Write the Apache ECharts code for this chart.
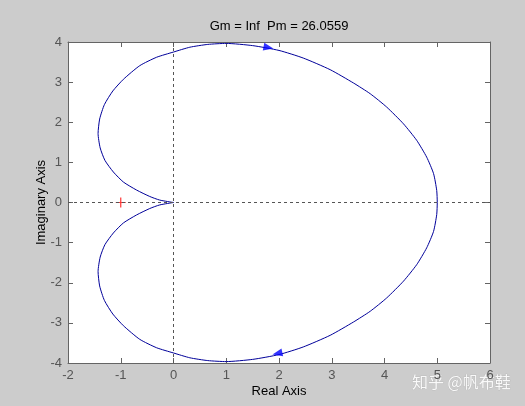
<!DOCTYPE html>
<html>
<head>
<meta charset="utf-8">
<script src="https://cdn.jsdelivr.net/npm/echarts@6/dist/echarts.min.js"></script>
<style>
html,body{margin:0;padding:0;background:#cccccc;}
#main{width:525px;height:406px;}
</style>
</head>
<body>
<div id="main"></div>
<script>
// Nyquist curve (loop order: origin -> upper half -> (5,0) -> lower half -> origin)
var realPart = [0, -0.26, -0.45, -0.70, -0.95, -1.14, -1.30, -1.39, -1.43, -1.40, -1.31, -1.15, -0.95, -0.64, -0.32, 0, 0.31, 0.65, 1.00, 1.50, 2.00, 2.46, 2.97, 3.41, 3.73, 4.04, 4.36, 4.61, 4.80, 4.93, 4.99, 5.00,
  4.99, 4.93, 4.80, 4.61, 4.36, 4.04, 3.73, 3.41, 2.97, 2.46, 2.00, 1.50, 1.00, 0.65, 0.31, 0, -0.32, -0.64, -0.95, -1.15, -1.31, -1.40, -1.43, -1.39, -1.30, -1.14, -0.95, -0.70, -0.45, -0.26, 0];
var imagPart = [0, 0.06, 0.15, 0.31, 0.51, 0.76, 1.05, 1.36, 1.72, 2.08, 2.44, 2.78, 3.07, 3.41, 3.62, 3.75, 3.87, 3.94, 3.965, 3.91, 3.79, 3.60, 3.31, 2.98, 2.71, 2.38, 1.96, 1.55, 1.13, 0.72, 0.30, 0,
  -0.30, -0.72, -1.13, -1.55, -1.96, -2.38, -2.71, -2.98, -3.31, -3.60, -3.79, -3.91, -3.965, -3.94, -3.87, -3.75, -3.62, -3.41, -3.07, -2.78, -2.44, -2.08, -1.72, -1.36, -1.05, -0.76, -0.51, -0.31, -0.15, -0.06, 0];
// direction arrows: position and heading (deg)
var arrowPts = [[1.80, 3.86], [1.97, -3.76]];
var arrowRot = [-101, 102];
// critical point
var critical = [[-1, 0]];
var xTicks = {min: -2, max: 6, step: 1};
var yTicks = {min: -4, max: 4, step: 1};
var titleText = 'Gm = Inf  Pm = 26.0559';
var xName = 'Real Axis';
var yName = 'Imaginary Axis';

var curve = realPart.map(function (r, i) { return [r, imagPart[i]]; });

var font = 'Liberation Sans, Arial, sans-serif';
var axisCommon = {
  axisLine: {show: true, onZero: false, lineStyle: {color: '#646464', width: 1}},
  axisTick: {show: true, inside: true, length: 5, lineStyle: {color: '#646464'}},
  splitLine: {show: false}
};

var chart = echarts.init(document.getElementById('main'), null, {renderer: 'canvas'});
chart.setOption({
  backgroundColor: '#cccccc',
  animation: false,
  grid: {left: 68, right: 35, top: 42, bottom: 43, show: true, backgroundColor: '#ffffff', borderWidth: 0},
  xAxis: [
    Object.assign({type: 'value', position: 'bottom', min: xTicks.min, max: xTicks.max, interval: xTicks.step,
      name: xName, nameLocation: 'middle', nameGap: 22, nameMoveOverlap: false,
      nameTextStyle: {color: '#000', fontSize: 13, fontFamily: font},
      axisLabel: {color: '#555555', fontSize: 13, fontFamily: font, margin: 6}}, axisCommon),
    Object.assign({type: 'value', position: 'top', min: xTicks.min, max: xTicks.max, interval: xTicks.step,
      axisLabel: {show: false}}, axisCommon)
  ],
  yAxis: [
    Object.assign({type: 'value', position: 'left', min: yTicks.min, max: yTicks.max, interval: yTicks.step,
      name: yName, nameLocation: 'middle', nameGap: 20, nameMoveOverlap: false,
      nameTextStyle: {color: '#000', fontSize: 13, fontFamily: font},
      axisLabel: {color: '#555555', fontSize: 13, fontFamily: font, margin: 6}}, axisCommon),
    Object.assign({type: 'value', position: 'right', min: yTicks.min, max: yTicks.max, interval: yTicks.step,
      axisLabel: {show: false}}, axisCommon)
  ],
  graphic: [
    {type: 'text', x: 279, y: 20, style: {text: titleText, fill: '#000', font: '13px ' + font, textAlign: 'center', textVerticalAlign: 'top'}},
    {type: 'text', x: 412, y: 374, style: {text: '知乎 @帆布鞋', fill: 'rgba(255,255,255,0.9)', font: '16px "Noto Sans CJK SC"', stroke: 'rgba(150,150,150,0.5)', lineWidth: 0.5}}
  ],
  series: [
    {
      type: 'line', data: curve, showSymbol: false, smooth: 0.2, clip: false,
      lineStyle: {color: '#00009a', width: 1},
      markLine: {
        silent: true, symbol: 'none', label: {show: false},
        lineStyle: {color: '#555555', type: [3, 3], width: 1},
        data: [{xAxis: 0}, {yAxis: 0}]
      },
      z: 3
    },
    {
      type: 'scatter', data: arrowPts.map(function (p, i) { return {value: p, symbolRotate: arrowRot[i]}; }),
      symbol: 'triangle', symbolSize: [8, 10],
      itemStyle: {color: '#0000ff'}, z: 4
    },
    {
      type: 'scatter', data: critical,
      symbol: 'path://M4.4,0 L5.6,0 L5.6,4.4 L10,4.4 L10,5.6 L5.6,5.6 L5.6,10 L4.4,10 L4.4,5.6 L0,5.6 L0,4.4 L4.4,4.4 Z',
      symbolSize: 10, itemStyle: {color: '#ff0000'}, z: 4
    }
  ]
});
</script>
</body>
</html>
